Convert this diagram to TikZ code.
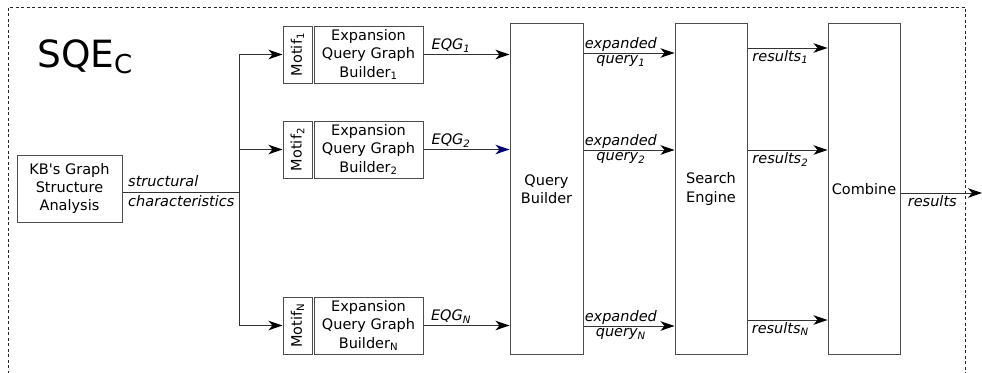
\documentclass[tikz,border=0pt]{standalone}
\usepackage{fontspec}
\setmainfont{DejaVu Sans}
\usetikzlibrary{arrows.meta}

\tikzset{
  blk/.style={draw=black!70, line width=1pt, fill=white, align=center,
    inner sep=0pt, font=\fontsize{14.5}{18.3}\selectfont},
  tip/.style={-{Stealth[length=14pt,width=9.5pt,inset=4pt,#1]}},
  tip/.default={},
  flow/.style={draw=black!80, line width=1pt, tip={color=black}},
  bluetip/.style={draw=black!80, line width=1pt, tip={color=blue!45!black}},
  wire/.style={draw=black!80, line width=1pt},
  lbl/.style={font=\fontsize{14.5}{16}\selectfont\itshape, inner sep=2pt},
}

\begin{document}
\begin{tikzpicture}[x=1pt,y=-1pt]
\useasboundingbox (0,0) rectangle (982,372);
\clip (0,0) rectangle (982,372);

% dashed enclosure
\draw[black!85, line width=0.8pt, dash pattern=on 3pt off 2.5pt]
  (8,390) -- (8,7) -- (965,7) -- (965,390);

% title
\node[anchor=base west, inner sep=0pt, font=\fontsize{37.5}{40}\selectfont]
  (title) at (37,67) {SQE\raisebox{-6pt}{\fontsize{26}{27}\selectfont C}};

% analysis block
\node[blk, minimum width=105pt, minimum height=67pt] (kb) at (69.5,188.5)
  {KB\textquotesingle s Graph\\Structure\\Analysis};

% motif / builder pairs
\foreach \i/\s/\yy in {1/1/54.5, 2/2/149.5, N/N/325.5}{
  \node[blk, minimum width=29pt, minimum height=57pt] (m\i) at (297.5,\yy)
    {\rotatebox{90}{Motif\textsubscript{\s}}};
  \node[blk, minimum width=109pt, minimum height=57pt] (e\i) at (368.5,\yy)
    {Expansion\\Query Graph\\Builder\textsubscript{\s}};
}

% tall stage blocks
\node[blk, minimum width=73pt, minimum height=331pt] (qb) at (546.5,189) {Query\\Builder};
\node[blk, minimum width=72pt, minimum height=331pt] (se) at (711,189) {Search\\Engine};
\node[blk, minimum width=72pt, minimum height=331pt] (cb) at (864,189) {Combine};

% fan-out from the analysis block
\coordinate (split) at (239,192);
\draw[wire] (kb.east |- split) -- (split);
\node[lbl, anchor=base west] (st) at (126,186) {structural};
\node[lbl, anchor=base west] (ch) at (126,206) {characteristics};
\draw[wire] (split |- m1) -- (split |- mN);
\foreach \i in {1,2,N}{
  \draw[flow] (split |- m\i) -- (m\i.west);
}

% builders to query builder
\draw[flow] (e1.east) -- (e1.east -| qb.west) node[lbl, pos=0.32, above] {EQG\textsubscript{\itshape 1}};
\draw[bluetip] (e2.east) -- (e2.east -| qb.west) node[lbl, pos=0.32, above] {EQG\textsubscript{\itshape 2}};
\draw[flow] (eN.east) -- (eN.east -| qb.west) node[lbl, pos=0.32, above] {EQG\textsubscript{\itshape N}};

% expanded queries
\foreach \i/\s/\yy in {1/1/53, 2/2/150, N/N/326}{
  \coordinate (qa\i) at (qb.east |- 0,\yy);
  \draw[flow] (qa\i) -- (qa\i -| se.west)
    node[lbl, pos=0.41, above, yshift=-1pt] {expanded}
    node[lbl, pos=0.41, below] {query\textsubscript{\itshape \s}};
}

% per-engine results
\foreach \i/\s/\yy in {1/1/48, 2/2/150, N/N/320}{
  \coordinate (ra\i) at (se.east |- 0,\yy);
  \draw[flow] (ra\i) -- (ra\i -| cb.west)
    node[lbl, pos=0.41, below] {results\textsubscript{\itshape \s}};
}

% combined output
\coordinate (out) at (982,193);
\draw[flow] (cb.east |- out) -- (out)
  node[lbl, pos=0.39, below] {results};
\end{tikzpicture}
\end{document}
